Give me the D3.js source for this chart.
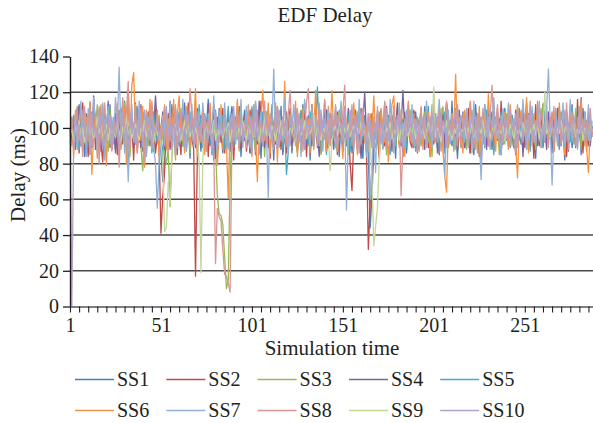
<!DOCTYPE html>
<html>
<head>
<meta charset="utf-8">
<script src="https://cdn.jsdelivr.net/npm/d3@7"></script>
<style>
  body { margin: 0; background: #fff; }
  svg { display: block; }
  svg text { font-family: "Liberation Serif", "DejaVu Serif", serif !important; fill: #231f20; }
</style>
</head>
<body>
<svg id="chart" width="593" height="423"></svg>
<script>
// ---- chart text ----
const chartTitle = "EDF Delay";
const xTitle = "Simulation time";
const yTitle = "Delay (ms)";

// ---- axes ----
const yTicks = [0, 20, 40, 60, 80, 100, 120, 140];
const gridValues = [20, 40, 60, 80, 100, 120];
const xLabelTicks = [1, 51, 101, 151, 201, 251];

// ---- series ----
const seriesNames = ["SS1", "SS2", "SS3", "SS4", "SS5", "SS6", "SS7", "SS8", "SS9", "SS10"];
const seriesColors = ["#4a7ebb", "#be4b48", "#98b954", "#7d60a0", "#46aac5",
                      "#f69240", "#93b1d7", "#d99694", "#c3d69b", "#b3a2c7"];

// Delay per simulation step (ms), steps 1..288
const ss1 = [
  100,93,106,88,99,112,90,103,84,108,95,114,89,101,93,109,86,99,107,83,102,95,113,91,
  104,86,98,110,90,101,115,94,82,106,99,89,112,88,103,95,109,84,98,107,92,101,87,111,
  92,100,86,70,84,97,106,88,113,93,101,85,109,97,90,114,92,103,83,108,96,89,111,99,
  87,106,94,101,116,90,99,82,105,93,111,98,86,108,95,89,103,112,88,100,94,109,84,101,
  110,91,98,86,106,95,114,92,102,83,105,94,109,89,100,103,82,108,97,90,112,87,101,96,
  92,106,86,99,110,91,103,96,113,88,98,107,82,101,94,111,89,99,105,92,115,87,98,108,
  96,88,101,109,84,103,94,112,90,99,106,86,98,110,89,101,96,83,107,93,86,44,62,88,
  99,108,89,103,94,114,88,98,106,92,101,83,110,96,90,105,99,86,111,94,101,89,109,97,
  88,104,95,112,92,99,84,107,94,101,89,110,97,105,86,96,106,92,115,90,99,83,104,95,
  109,89,101,96,86,106,97,113,92,103,82,99,108,90,96,101,88,110,97,93,105,85,100,111,
  94,100,89,107,101,86,98,109,91,103,96,114,88,99,106,92,83,105,96,110,89,101,94,108,
  98,86,106,95,101,112,90,99,82,109,94,103,89,98,108,92,101,85,111,96,104,90,99,95
];
const ss2 = [
  93,91,104,96,111,86,100,114,90,103,84,107,95,112,88,101,109,92,81,105,97,113,89,102,
  95,108,85,100,111,91,104,88,116,96,102,82,107,97,92,113,87,101,94,109,90,99,105,86,
  95,88,41,62,75,96,108,89,101,112,90,104,96,85,109,98,92,114,101,94,88,17,84,104,
  97,110,90,101,84,106,94,113,88,100,104,92,111,86,98,108,91,102,82,106,96,112,89,99,
  106,87,98,110,92,101,85,108,96,115,90,99,104,94,83,109,97,91,112,100,88,106,95,86,
  101,111,91,98,107,87,100,109,94,114,84,103,96,90,108,99,92,112,86,101,95,110,89,100,
  107,92,102,85,98,110,90,101,95,105,80,65,94,107,88,99,111,91,101,86,32,58,75,95,
  102,95,83,108,99,90,112,94,101,87,106,97,114,91,100,84,109,95,103,92,89,110,98,86,
  98,107,92,101,112,89,99,109,91,103,96,85,108,94,100,114,90,99,105,93,110,87,98,106,
  91,101,96,111,86,103,94,108,99,84,105,92,113,97,90,101,109,88,96,107,93,115,91,100,
  102,90,110,96,101,85,108,97,92,112,89,99,106,94,101,83,109,96,90,104,113,92,98,105,
  94,108,87,99,111,91,101,96,106,84,103,93,113,97,89,116,95,100,86,109,98,91,105,96
];
const ss3 = [
  97,106,91,101,112,88,99,94,109,86,102,97,90,110,100,113,89,99,107,92,101,87,111,96,
  91,103,96,109,88,100,114,93,101,84,106,97,92,111,99,89,76,105,97,90,109,87,101,95,
  99,107,89,98,86,80,88,56,84,97,105,92,101,111,90,99,94,107,86,102,96,91,109,100,
  93,106,97,87,101,110,91,99,89,62,52,51,46,28,10,15,70,98,107,93,101,89,111,98,
  104,93,100,89,112,96,87,107,99,92,102,84,109,97,91,101,95,114,88,99,106,93,101,90,
  97,108,89,100,95,86,106,99,111,92,101,90,99,109,88,101,96,107,85,104,94,99,110,90,
  101,94,106,87,99,111,91,102,96,85,107,97,92,100,109,90,99,104,94,86,102,96,107,93,
  89,101,109,97,91,106,85,99,102,94,112,90,100,96,107,92,87,104,99,110,91,101,95,106,
  96,90,102,109,99,92,101,84,107,96,104,91,99,112,94,102,89,98,108,87,101,96,105,93,
  99,107,88,101,96,110,93,102,86,105,98,91,109,99,101,89,97,108,94,102,85,106,98,91,
  108,96,101,90,104,98,112,93,99,87,107,96,100,91,110,99,88,102,97,94,114,100,91,105,
  96,102,90,99,109,93,101,97,87,106,96,105,99,91,111,95,100,88,104,98,93,108,99,102
];
const ss4 = [
  96,101,90,108,99,113,91,102,96,84,107,98,89,118,100,93,110,87,99,106,94,115,91,101,
  98,88,109,100,92,112,96,102,85,107,99,91,114,96,101,89,108,98,86,104,95,111,100,118,
  102,90,99,109,88,101,96,115,93,105,85,99,107,94,101,89,111,97,91,103,96,108,87,100,
  107,93,102,89,113,97,92,101,83,106,99,109,90,101,96,104,87,111,94,99,107,89,101,96,
  93,106,99,86,109,96,102,91,115,97,101,89,107,94,99,111,88,102,96,92,106,85,100,109,
  96,103,90,99,111,94,101,88,108,97,91,105,99,113,93,101,96,84,107,99,94,110,89,102,
  99,91,109,100,95,105,87,102,94,111,97,89,101,107,92,99,83,103,120,95,101,91,108,97,
  102,93,99,110,89,101,96,107,86,104,97,94,112,91,100,121,99,88,105,96,101,109,91,99,
  105,94,101,88,111,99,92,102,96,108,86,100,97,107,91,114,96,101,90,104,94,99,110,93,
  101,89,107,97,93,102,85,109,99,92,106,96,101,88,111,97,90,102,96,108,99,87,105,100,
  96,107,92,101,89,110,99,94,104,84,102,97,108,91,100,96,113,90,99,106,94,101,88,109,
  99,92,104,96,111,89,101,94,107,99,87,106,96,101,91,109,97,117,93,102,99,107,90,101
];
const ss5 = [
  99,96,107,92,102,88,111,97,91,105,100,85,109,96,99,90,108,101,94,113,92,102,97,88,
  105,95,101,87,110,99,92,104,84,107,97,102,91,112,95,100,89,108,99,94,104,86,109,98,
  92,103,96,83,106,99,88,109,101,93,111,97,90,102,96,107,87,100,109,94,99,104,91,113,
  97,89,108,101,93,104,85,99,110,92,102,96,107,88,100,112,94,99,89,105,97,109,92,101,
  104,94,99,89,111,100,92,106,86,98,109,99,91,102,96,113,90,100,107,94,97,88,102,74,
  87,107,99,93,105,89,101,110,92,102,97,91,109,99,90,101,123,96,104,92,100,85,108,97,
  94,104,99,90,110,101,92,102,96,107,87,99,105,94,100,111,91,97,103,93,87,97,107,99,
  102,93,101,109,89,99,96,106,85,107,99,93,102,111,91,100,96,89,108,99,94,104,87,101,
  97,107,93,101,96,112,90,102,94,99,106,86,101,96,109,93,99,104,91,100,111,94,99,89,
  101,96,108,91,102,99,88,107,97,93,104,100,89,110,99,92,102,85,106,97,100,109,91,99,
  93,102,97,107,89,100,96,111,91,99,105,94,101,87,108,99,95,103,92,101,90,110,97,94,
  102,96,91,107,99,88,109,101,94,105,97,92,112,99,90,102,96,107,94,100,87,106,97,101
];
const ss6 = [
  95,104,84,110,92,99,112,87,101,106,93,115,74,96,108,83,100,113,90,104,79,109,97,88,
  106,95,114,85,102,97,111,80,120,92,124,131,98,86,107,93,112,78,103,99,116,89,104,95,
  110,84,101,96,113,88,105,93,99,116,82,107,118,94,100,86,112,97,90,108,101,122,84,99,
  92,111,85,103,97,114,89,100,108,79,96,113,88,104,91,61,99,107,94,101,116,87,105,96,
  102,90,109,97,84,113,95,70,100,106,121,93,99,114,86,103,96,110,81,104,98,92,126,95,
  88,107,100,93,115,84,102,97,110,91,99,105,86,113,96,121,90,103,108,94,100,87,112,98,
  121,95,104,88,109,97,83,112,100,93,106,90,114,99,85,103,97,110,92,101,87,108,96,118,
  94,103,86,111,99,92,107,81,100,113,118,96,104,89,110,97,84,102,115,93,100,108,90,105,
  97,112,88,103,95,109,84,100,116,92,105,98,111,87,73,64,101,94,108,99,130,90,106,97,
  86,110,99,93,115,102,89,106,97,112,84,100,108,95,119,91,103,98,87,111,96,104,92,109,
  100,88,113,97,105,91,72,102,110,94,99,117,86,104,96,108,92,115,100,89,106,98,112,93,
  101,109,87,103,96,114,92,100,85,107,98,111,94,102,90,106,99,116,93,104,88,75,102,97
];
const ss7 = [
  97,90,92,108,88,101,115,94,106,84,111,98,90,117,103,86,109,95,114,82,102,112,91,106,
  93,117,100,134,97,111,86,104,70,99,113,92,108,87,115,101,95,110,84,106,98,112,89,80,
  55,82,95,107,99,112,88,115,96,102,86,110,99,93,116,101,88,107,97,113,90,104,96,109,
  94,114,99,87,108,101,92,118,97,85,110,103,93,114,99,88,106,96,112,91,103,97,116,89,
  101,112,94,107,86,103,115,96,99,109,91,104,97,61,108,100,133,95,88,110,102,93,117,98,
  86,106,100,113,92,99,108,84,103,116,95,101,89,111,98,107,93,114,100,87,105,97,110,92,
  108,96,113,89,102,115,98,105,54,94,110,100,87,107,97,116,91,103,99,84,108,60,78,98,
  75,112,95,104,88,109,101,93,116,99,86,106,98,114,92,103,89,110,100,96,113,90,105,99,
  87,108,102,94,115,99,106,89,111,96,103,116,92,100,73,97,110,91,104,99,88,113,96,107,
  100,92,111,97,104,86,115,99,108,93,71,102,113,95,106,88,100,117,94,109,98,85,111,103,
  96,114,90,105,99,86,110,101,94,116,100,88,107,97,112,92,104,99,115,89,106,98,110,133,
  102,68,96,111,93,107,100,114,89,104,97,116,92,106,99,88,112,101,95,109,98,113,93,104
];
const ss8 = [
  98,106,88,103,110,93,100,84,112,97,105,111,90,101,95,108,80,103,99,114,92,100,107,87,
  104,95,112,78,101,117,98,109,126,90,103,94,113,86,100,107,96,81,110,99,93,115,101,96,
  108,97,91,104,112,99,86,106,100,95,113,89,102,109,94,105,100,96,122,107,97,111,88,101,
  95,109,100,87,104,97,92,90,24,55,50,48,32,18,17,13,8,92,106,99,111,94,103,97,
  102,89,113,97,106,94,100,110,85,103,98,115,92,101,107,96,88,104,112,99,93,106,100,90,
  108,121,96,103,90,111,99,105,87,100,114,122,95,102,89,107,98,110,93,101,116,97,104,91,
  105,99,112,88,101,96,109,124,94,103,98,113,90,107,100,86,104,111,97,93,108,101,89,106,
  97,110,92,103,99,115,88,101,106,94,112,96,100,108,62,90,103,97,114,99,92,105,100,87,
  104,111,95,100,89,107,98,113,93,102,96,109,87,104,100,115,92,99,106,94,101,112,97,90,
  108,99,103,93,114,97,100,88,106,101,95,111,98,104,90,107,124,96,102,113,91,105,99,108,
  94,103,110,97,100,87,113,99,105,92,108,96,101,115,90,104,98,107,93,111,100,96,104,89,
  106,99,112,94,101,108,91,103,97,114,88,102,109,96,100,93,110,98,105,90,103,99,111,95
];
const ss9 = [
  96,99,93,101,97,104,95,100,92,98,103,96,100,94,99,106,97,101,95,98,102,93,100,97,
  99,95,103,98,92,101,97,105,96,100,94,99,102,97,93,100,98,104,95,99,101,96,92,100,
  97,94,92,80,42,44,70,58,85,99,102,96,100,93,98,104,97,101,95,99,94,100,97,80,
  19,82,98,101,95,100,97,104,93,99,96,101,94,100,98,103,92,99,97,102,95,100,96,104,
  98,93,101,97,100,95,103,99,92,100,97,105,96,99,94,101,98,93,100,97,104,96,99,101,
  95,100,97,103,93,99,101,96,98,104,94,100,97,99,108,95,101,97,93,100,98,102,96,76,
  92,99,101,96,103,98,94,100,97,102,95,99,101,93,100,97,104,96,99,94,98,93,72,34,
  45,55,82,97,101,95,100,98,103,94,99,97,101,93,100,96,104,98,95,100,97,102,94,99,
  101,96,100,94,98,103,97,99,123,95,100,97,92,101,98,104,96,99,93,100,97,102,95,99,
  98,101,94,100,97,103,95,99,92,100,97,104,96,99,101,94,100,98,103,95,99,97,101,93,
  100,96,102,98,94,101,97,99,95,103,98,100,93,99,97,102,96,101,94,99,98,120,97,100,
  95,101,98,93,100,97,104,96,99,101,94,100,98,103,95,99,97,101,93,100,98,96,102,99
];
const ss10 = [
  98,0,90,106,96,102,90,110,99,93,104,86,108,96,101,91,112,98,89,105,94,102,107,90,
  101,96,110,89,99,106,93,102,86,108,97,103,91,101,96,111,90,99,107,94,102,88,101,97,
  106,93,99,104,90,109,97,101,88,105,96,107,92,100,99,89,110,95,102,97,91,108,99,95,
  102,90,107,99,94,104,87,100,109,97,92,102,96,106,89,101,99,108,93,102,97,90,105,100,
  95,106,99,89,102,96,110,93,100,105,90,99,108,96,102,92,101,97,111,89,99,106,94,102,
  97,90,105,100,94,109,92,102,99,88,106,96,101,108,93,99,104,90,110,97,94,102,91,105,
  101,96,89,107,99,102,93,110,97,92,104,99,94,106,88,101,109,96,102,93,99,105,90,101,
  96,106,99,91,102,94,111,100,90,104,97,93,107,99,102,89,105,96,101,108,92,99,104,94,
  102,93,99,106,90,101,96,109,97,104,92,99,107,94,102,89,105,99,96,101,110,93,102,97,
  95,105,99,89,101,108,96,102,92,99,106,97,90,102,96,111,93,101,104,94,99,107,91,100,
  104,96,92,102,99,108,89,101,106,94,97,102,93,112,96,99,90,105,101,94,102,92,109,99,
  96,104,93,101,90,106,99,94,110,102,92,101,96,105,99,89,107,97,102,94,101,93,105,99
];
const seriesValues = [ss1, ss2, ss3, ss4, ss5, ss6, ss7, ss8, ss9, ss10];

// ---- layout ----
const svg = d3.select("#chart");
const plot = { left: 70, right: 593, top: 56.5, bottom: 306.5 };
const lastStep = 288.5;

const x = d3.scaleLinear().domain([1, lastStep]).range([plot.left, plot.right]);
const y = d3.scaleLinear().domain([0, 140]).range([plot.bottom, plot.top]);

// title
svg.append("text")
  .attr("x", 325).attr("y", 21.5)
  .attr("text-anchor", "middle")
  .style("font-size", "21px")
  .text(chartTitle);

// horizontal gridlines
svg.append("g")
  .selectAll("line")
  .data(gridValues)
  .join("line")
  .attr("x1", plot.left).attr("x2", plot.right)
  .attr("y1", d => y(d)).attr("y2", d => y(d))
  .attr("stroke", "#4a4a4a")
  .attr("stroke-width", 1.5);

// series lines
const line = d3.line()
  .x((d, i) => x(i + 1))
  .y(d => y(d));

svg.append("g")
  .selectAll("path")
  .data(seriesValues)
  .join("path")
  .attr("d", d => line(d))
  .attr("fill", "none")
  .attr("stroke", (d, i) => seriesColors[i])
  .attr("stroke-width", 1.3)
  .attr("stroke-linejoin", "round");

// y axis
const yAxis = svg.append("g")
  .attr("transform", `translate(${plot.left},0)`)
  .call(d3.axisLeft(y).tickValues(yTicks).tickSize(7).tickSizeOuter(0).tickPadding(4));
yAxis.attr("font-family", null);
yAxis.select(".domain").attr("stroke", "#231f20").attr("stroke-width", 1.4);
yAxis.selectAll(".tick line").attr("stroke", "#231f20").attr("stroke-width", 1.3);
yAxis.selectAll(".tick text")
  .style("font-size", "20px")
  .attr("fill", "#231f20");

// x axis
const xAxis = svg.append("g")
  .attr("transform", `translate(0,${plot.bottom})`)
  .call(d3.axisBottom(x)
    .tickValues(d3.range(1, 289, 5))
    .tickSize(6).tickSizeOuter(0).tickPadding(5)
    .tickFormat(d => xLabelTicks.includes(d) ? String(d) : ""));
xAxis.attr("font-family", null);
xAxis.select(".domain").attr("stroke", "#555").attr("stroke-width", 1.4);
xAxis.selectAll(".tick line").attr("stroke", "#231f20").attr("stroke-width", 1.1);
xAxis.selectAll(".tick text")
  .style("font-size", "20px")
  .attr("fill", "#231f20");

// axis titles
svg.append("text")
  .attr("x", 332).attr("y", 355)
  .attr("text-anchor", "middle")
  .style("font-size", "21px")
  .text(xTitle);

svg.append("text")
  .attr("transform", "translate(25,175) rotate(-90)")
  .attr("text-anchor", "middle")
  .style("font-size", "21px")
  .text(yTitle);

// legend: two rows of five
const legend = svg.append("g")
  .selectAll("g")
  .data(seriesNames)
  .join("g")
  .attr("transform", (d, i) => `translate(${75 + (i % 5) * 91.3},${i < 5 ? 379.5 : 410.5})`);

legend.append("line")
  .attr("x1", 0).attr("x2", 39)
  .attr("y1", 0).attr("y2", 0)
  .attr("stroke", (d, i) => seriesColors[i])
  .attr("stroke-width", 1.5);

legend.append("text")
  .attr("x", 42).attr("y", 6.5)
  .style("font-size", "20px")
  .text(d => d);
</script>
</body>
</html>
